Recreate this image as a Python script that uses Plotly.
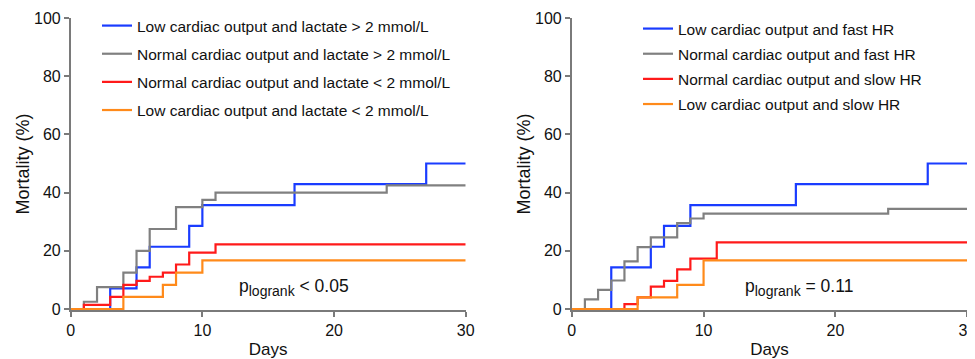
import plotly.graph_objects as go

# ---- data ----
left_names = ["Low cardiac output and lactate > 2 mmol/L",
              "Normal cardiac output and lactate > 2 mmol/L",
              "Normal cardiac output and lactate < 2 mmol/L",
              "Low cardiac output and lactate < 2 mmol/L"]
right_names = ["Low cardiac output and fast HR",
               "Normal cardiac output and fast HR",
               "Normal cardiac output and slow HR",
               "Low cardiac output and slow HR"]

l_blue_days = [0, 3, 5, 6, 9, 10, 17, 27, 30]
l_blue_mort = [0, 7.1, 14.3, 21.4, 28.6, 35.7, 42.9, 50, 50]
l_gray_days = [0, 1, 2, 4, 5, 6, 8, 10, 11, 24, 30]
l_gray_mort = [0, 2.5, 7.5, 12.5, 20, 27.5, 35, 37.5, 40, 42.5, 42.5]
l_red_days = [0, 1, 3, 4, 5, 6, 7, 8, 9, 11, 30]
l_red_mort = [0, 1.4, 4.2, 8.3, 9.7, 11.1, 12.5, 15.3, 19.4, 22.2, 22.2]
l_orange_days = [0, 4, 7, 8, 10, 30]
l_orange_mort = [0, 4.2, 8.3, 12.5, 16.7, 16.7]

r_blue_days = [0, 3, 6, 7, 9, 17, 27, 30]
r_blue_mort = [0, 14.3, 21.4, 28.6, 35.7, 42.9, 50, 50]
r_gray_days = [0, 1, 2, 3, 4, 5, 6, 8, 9, 10, 24, 30]
r_gray_mort = [0, 3.3, 6.6, 9.8, 16.4, 21.3, 24.6, 29.5, 31.1, 32.8, 34.4, 34.4]
r_red_days = [0, 4, 5, 6, 7, 8, 9, 11, 30]
r_red_mort = [0, 1.7, 4.0, 7.7, 9.7, 13.6, 17.3, 22.9, 22.9]
r_orange_days = [0, 5, 8, 10, 30]
r_orange_mort = [0, 4.0, 8.3, 16.7, 16.7]

colors = ["#1a3cff", "#808080", "#ff1a1a", "#ff8a1a"]

x_ticks = [0, 10, 20, 30]
y_ticks = [0, 20, 40, 60, 80, 100]

FONT = "Liberation Sans, Arial, sans-serif"

# page body has an 8px margin; figure is sized and placed to compensate
W, H, OFF = 967, 351, 8


def fx(px):
    return (px - OFF) / W


def fy(py):
    return 1 - (py - OFF) / H


fig = go.Figure()

left_series = [(l_blue_days, l_blue_mort), (l_gray_days, l_gray_mort),
               (l_red_days, l_red_mort), (l_orange_days, l_orange_mort)]
right_series = [(r_blue_days, r_blue_mort), (r_gray_days, r_gray_mort),
                (r_red_days, r_red_mort), (r_orange_days, r_orange_mort)]

for i, ((d, m), name) in enumerate(zip(left_series, left_names)):
    fig.add_trace(go.Scatter(x=d, y=m, mode="lines", line_shape="hv",
                             line=dict(color=colors[i], width=2.2), name=name,
                             legend="legend", legendgroup="L%d" % i,
                             xaxis="x", yaxis="y"))
for i, ((d, m), name) in enumerate(zip(right_series, right_names)):
    fig.add_trace(go.Scatter(x=d, y=m, mode="lines", line_shape="hv",
                             line=dict(color=colors[i], width=2.2), name=name,
                             legend="legend2", legendgroup="R%d" % i,
                             xaxis="x2", yaxis="y2"))

ydom = [fy(310.2), fy(18)]
axis_common = dict(showline=True, linecolor="#7a7a7a", linewidth=1.6,
                   ticks="outside", ticklen=5, tickwidth=1.6, tickcolor="#7a7a7a",
                   showgrid=False, zeroline=False, automargin=False,
                   ticklabeloverflow="allow",
                   tickfont=dict(family=FONT, size=16, color="#111"))
xtitle = dict(text="Days", font=dict(family=FONT, size=17, color="#111"), standoff=10)
ytitle = dict(text="Mortality (%)", font=dict(family=FONT, size=18, color="#111"), standoff=0)

fig.update_layout(
    width=W, height=H,
    margin=dict(l=0, r=0, t=0, b=0),
    paper_bgcolor="white", plot_bgcolor="white",
    font=dict(family=FONT, color="#111"),
    xaxis=dict(domain=[fx(70.7), fx(465.7)], range=[0, 30], tickvals=x_ticks,
               title=xtitle, anchor="y", **axis_common),
    yaxis=dict(domain=ydom, range=[-0.4, 100], tickvals=y_ticks,
               title=ytitle, anchor="x", **axis_common),
    xaxis2=dict(domain=[fx(571.7), fx(967.3)], range=[0, 30], tickvals=x_ticks,
                title=xtitle, anchor="y2", **axis_common),
    yaxis2=dict(domain=ydom, range=[-0.4, 100], tickvals=y_ticks,
                title=ytitle, anchor="x2", **axis_common),
    legend=dict(x=fx(97), y=fy(9), xanchor="left", yanchor="top",
                bgcolor="rgba(0,0,0,0)", font=dict(family=FONT, size=15.5, color="#111"),
                tracegroupgap=5, itemwidth=30),
    legend2=dict(x=fx(638), y=fy(12), xanchor="left", yanchor="top",
                 bgcolor="rgba(0,0,0,0)", font=dict(family=FONT, size=15.5, color="#111"),
                 tracegroupgap=2, itemwidth=30),
    annotations=[
        dict(xref="x", yref="y", x=12.65, y=7.3, xanchor="left", yanchor="middle",
             text="p<sub><span style='font-size:14px'>logrank</span></sub> &lt; 0.05",
             showarrow=False, font=dict(family=FONT, size=17.5, color="#111")),
        dict(xref="x2", yref="y2", x=13.0, y=7.3, xanchor="left", yanchor="middle",
             text="p<sub><span style='font-size:14px'>logrank</span></sub> = 0.11",
             showarrow=False, font=dict(family=FONT, size=17.5, color="#111")),
    ],
)

fig.write_html("out.html")
